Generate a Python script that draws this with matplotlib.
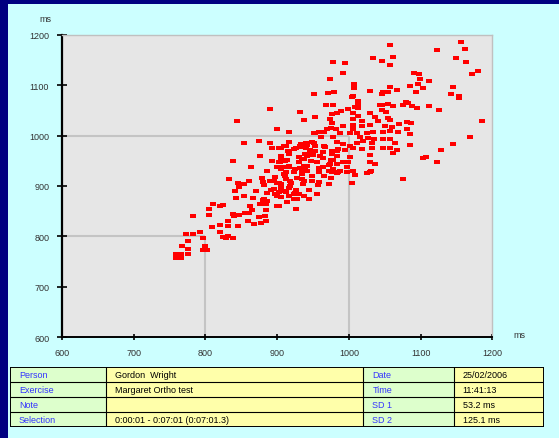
import matplotlib
matplotlib.use("Agg")
import matplotlib.pyplot as plt
from matplotlib.patches import Rectangle

plt.rcParams['font.family'] = ['Liberation Sans', 'DejaVu Sans']

# ---- data (ms) ----
x_a = [759,766,759,766,776,767,776,775,773,782,792,797,800,797,802,809,821,820,832,832,846,824,828,831,839,860,868,878,884,810,824,820,862,876,884,902,805,865,885,805,783,838,840,847,855,861,875,883]
y_a = [766,766,757,757,765,782,776,791,804,804,809,796,781,774,774,819,823,809,831,821,821,799,797,800,797,831,824,827,831,865,863,861,860,864,865,860,854,853,853,843,840,845,840,842,846,846,839,841]
x_b = [886,897,833,846,861,854,879,880,890,900,847,882,841,871,892,886,897,902,843,854,866,881,886]
y_b = [929,917,914,906,910,904,915,908,910,906,899,902,890,890,893,886,884,889,877,880,877,875,870]
x_c = [890,844,854,875,890,876,863,839,893,900,893,900,903,902,900,880]
y_c = [1052,1029,986,989,985,959,937,949,975,1013,950,937,975,947,861,872]
x_d = [932,937,917,916,933,942,906,912,915,926,932,940,917,905,914,904,931,937,941,903,909,917,925,932,939,913,935,941]
y_d = [1047,1031,1007,988,983,982,976,979,970,976,979,975,963,952,952,947,948,953,960,937,938,937,933,936,934,928,927,930]
x_e = [911,949,948,958,957,965,975,972,977,983,988,895,903,906,916,918,919,927,934,936,896,900,905,913,926,924,930,937,927,945,955,945,914,926,1008,1005,1025,1031]
y_e = [919,919,910,908,902,919,915,904,927,926,930,909,906,897,896,910,906,915,914,904,894,881,879,889,893,884,884,881,874,892,884,874,868,854,922,905,926,929]
x_f = [909,916,905,911,916,905,909,913,906,918,909,925,916,924,934,923,937,937,947,946,930,923,953,951,953,955,960,958,964,974,972,978,983,967,976,985,995,999,997,1002,985,997]
y_f = [980,965,960,950,940,934,924,914,904,900,891,887,881,875,924,928,940,910,950,967,957,973,1006,986,970,947,960,927,937,944,930,951,960,977,970,973,947,947,937,957,927,927]
x_g = [952,971,979,1006,1030,1048,1054,1067,1013,968,978,1013,1046,1055,1080,1075,999,1013,1006,989,983,976,953,1030,1046,1052,1013,1037,1054,1058,973,1006,1018,1041,1081,976,992,1006,1006,1019,1029,1051,1060,1070,975,969,982,988,951,959,965,1001,1012,1025,1033,1047,1058,1068,1081]
y_g = [1083,1084,1086,1079,1089,1086,1087,1091,1069,1061,1061,1062,1061,1062,1066,1061,1052,1054,1045,1048,1045,1043,1037,1045,1051,1046,1039,1036,1035,1031,1033,1033,1029,1028,1026,1025,1018,1021,1014,1018,1021,1019,1016,1023,1015,1013,1013,1006,1005,1007,1008,1005,1005,1006,1008,1008,1009,1007,1013]
x_h = [961,978,1016,1027,1035,1047,1058,983,992,1002,1011,1020,1032,940,948,953,934,946,965,984,995,1006,1018,1032,1048,1058,1065,1030,964,976,939,950,934,964,975,992,983,1030,1037,941,958,972,978,1006,1029]
y_h = [998,998,998,996,993,994,994,988,983,980,986,990,986,985,988,980,977,972,979,970,972,975,973,975,975,975,985,961,967,963,963,961,953,955,951,947,944,948,943,940,935,942,934,930,928]
x_i = [1058,1156,1162,1123,978,995,1034,1046,1062,1058,1149,1163,992,1091,1098,1099,1112,1097,1104,1085,1094,1172,1180,973,1007,1007,1058,1046,1145,1143,1153,1154,1004,1009,1043,1061,1083,1088,1095,1112,1125,1186,1169,1145,1129,1108,1104,1123,1075,1085,1087,1085,1067,1062]
y_i = [1180,1186,1172,1169,1146,1143,1154,1148,1156,1140,1153,1146,1124,1124,1122,1112,1108,1103,1095,1099,1087,1122,1129,1112,1103,1095,1097,1083,1097,1083,1079,1074,1077,1056,1060,1058,1064,1059,1054,1058,1051,1029,997,983,971,958,955,947,914,981,1025,1004,972,966]

ref_levels = [800, 1000]
ticks = [600, 700, 800, 900, 1000, 1100, 1200]

table_labels_left = ["Person", "Exercise", "Note", "Selection"]
table_values_left = ["Gordon  Wright", "Margaret Ortho test", "", "0:00:01 - 0:07:01 (0:07:01.3)"]
table_labels_right = ["Date", "Time", "SD 1", "SD 2"]
table_values_right = ["25/02/2006", "11:41:13", "53.2 ms", "125.1 ms"]

xs, ys = [], []
for gx, gy in [(x_a, y_a), (x_b, y_b), (x_c, y_c), (x_d, y_d), (x_e, y_e),
               (x_f, y_f), (x_g, y_g), (x_h, y_h), (x_i, y_i)]:
    n = min(len(gx), len(gy))
    xs += gx[:n]
    ys += gy[:n]

# ---- figure ----
W, H = 559, 439
fig = plt.figure(figsize=(W / 100, H / 100), dpi=100)
fig.patch.set_facecolor('#000080')
fig.patches.append(Rectangle((8 / W, 0), 1, 1 - 5 / H, transform=fig.transFigure,
                             facecolor='#CCFFFF', edgecolor='none', zorder=-10))

ax = fig.add_axes([62 / W, 1 - 338.3 / H, (492.3 - 62) / W, (338.3 - 35.7) / H])
ax.set_facecolor('#E6E6E6')
ax.set_xlim(600, 1200)
ax.set_ylim(600, 1200)

for lv in ref_levels:
    ax.plot([600, lv], [lv, lv], color='#C4C4C4', lw=1.5, zorder=1, solid_capstyle='butt')
    ax.plot([lv, lv], [600, lv], color='#C4C4C4', lw=1.5, zorder=1, solid_capstyle='butt')

rect = [(-1.5, -1), (1.5, -1), (1.5, 1), (-1.5, 1), (-1.5, -1)]
ax.plot(xs, ys, linestyle='none', marker=rect, markersize=4.1,
        color='#FF0000', markeredgewidth=0, zorder=3)

for s in ['top', 'right']:
    ax.spines[s].set_color('#C0C0C0')
    ax.spines[s].set_linewidth(1.0)
ax.spines['left'].set_color('black')
ax.spines['left'].set_linewidth(1.6)
ax.spines['bottom'].set_color('black')
ax.spines['bottom'].set_linewidth(1.4)

ax.set_xticks(ticks)
ax.set_yticks(ticks)
ax.set_xticklabels([str(t) for t in ticks])
ax.set_yticklabels([str(t) for t in ticks])
ax.tick_params(axis='y', direction='inout', length=6.5, width=1.2, colors='black',
               labelcolor='#333333', labelsize=6.5, pad=6)
ax.tick_params(axis='x', direction='inout', length=4.8, width=1.2, colors='black',
               labelcolor='#333333', labelsize=6.5, pad=5)

fig.text(45 / W, 1 - 19 / H, "ms", fontsize=6.5, color='#333333', ha='center', va='center')
fig.text(519 / W, 1 - 336 / H, "ms", fontsize=6.5, color='#333333', ha='center', va='center')

# ---- info table ----
tx0, tx1, ty0, ty1 = 10, 544.3, 367.7, 427.7
tab = fig.add_axes([tx0 / W, 1 - ty1 / H, (tx1 - tx0) / W, (ty1 - ty0) / H])
tab.set_xlim(tx0, tx1)
tab.set_ylim(ty1, ty0)
tab.axis('off')
cols = [10, 105.7, 363.3, 453.7, 544.3]
col_colors = ['#DDFFCC', '#FFFFAA', '#DDFFCC', '#FFFFAA']
rows = len(table_labels_left)
rh = (ty1 - ty0) / rows
for c in range(4):
    tab.add_patch(Rectangle((cols[c], ty0), cols[c + 1] - cols[c], ty1 - ty0,
                            facecolor=col_colors[c], edgecolor='none', zorder=1))
for r in range(1, rows):
    tab.plot([tx0, tx1], [ty0 + r * rh] * 2, color='black', lw=0.8, zorder=2)
for c in range(1, 4):
    tab.plot([cols[c]] * 2, [ty0, ty1], color='black', lw=0.8, zorder=2)
tab.add_patch(Rectangle((tx0, ty0), tx1 - tx0, ty1 - ty0, facecolor='none',
                        edgecolor='black', lw=1.4, zorder=3))
texts = [table_labels_left, table_values_left, table_labels_right, table_values_right]
tcol = ['#3333FF', 'black', '#3333FF', 'black']
for c in range(4):
    for r in range(rows):
        tab.text(cols[c] + 9, ty0 + (r + 0.5) * rh + 0.3, texts[c][r], fontsize=6.5,
                 color=tcol[c], ha='left', va='center', zorder=4)

fig.savefig("out.png", dpi=100, facecolor=fig.get_facecolor())
